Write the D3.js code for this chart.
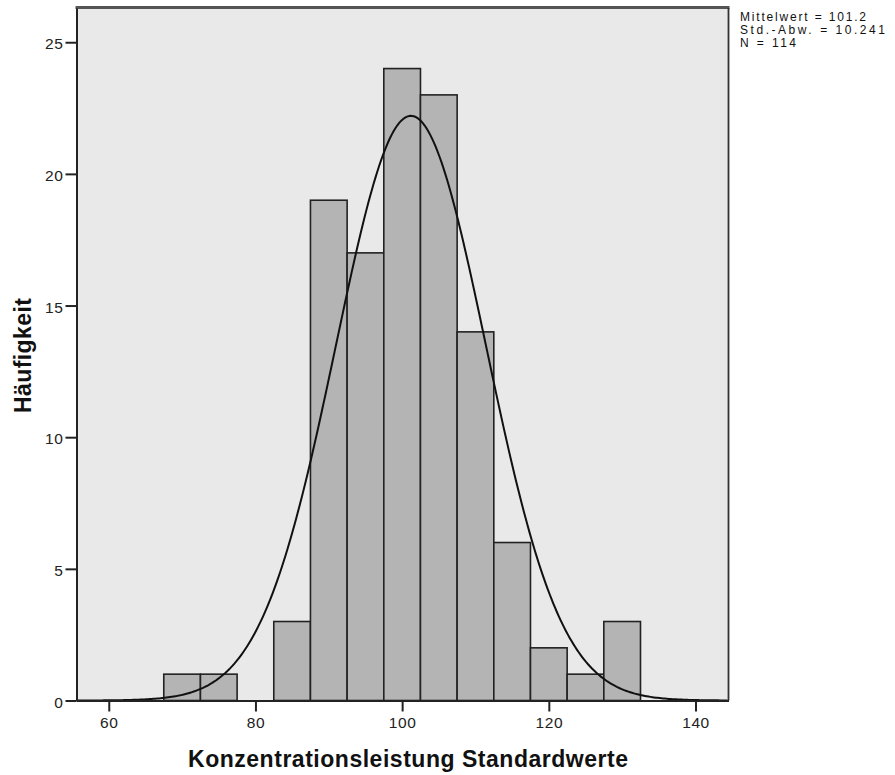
<!DOCTYPE html>
<html>
<head>
<meta charset="utf-8">
<script src="https://cdn.jsdelivr.net/npm/d3@7"></script>
<style>
  body { margin: 0; background: #fff; }
  svg text { font-family: "Liberation Sans", Arial, sans-serif; }
</style>
</head>
<body>
<div class="chart"></div>
<script>
// bin edges (lower bound of each 5-wide bin) and counts
let binStarts = [67.5, 72.5, 77.5, 82.5, 87.5, 92.5, 97.5, 102.5, 107.5, 112.5, 117.5, 122.5, 127.5];
let binCounts = [1, 1, 0, 3, 19, 17, 24, 23, 14, 6, 2, 1, 3];
let binWidth = 5;

let xTicks = [60, 80, 100, 120, 140];
let yTicks = [0, 5, 10, 15, 20, 25];

let mean = 101.2;
let sd = 10.241;
let n = 114;
let statsLines = ["Mittelwert = 101.2", "Std.-Abw. = 10.241", "N = 114"];

let W = 895, H = 775;
let plotLeft = 76.5, plotRight = 728.5, plotTop = 8, plotBottom = 700.5;

let svg = d3.select(".chart").append("svg")
  .attr("width", W)
  .attr("height", H);

let x = d3.scaleLinear()
  .domain([55.6, 144.5])
  .range([plotLeft, plotRight]);

let y = d3.scaleLinear()
  .domain([0, 26.3])
  .range([plotBottom, plotTop]);

// plot background
svg.append("rect")
  .attr("x", plotLeft)
  .attr("y", plotTop)
  .attr("width", plotRight - plotLeft)
  .attr("height", plotBottom - plotTop)
  .attr("fill", "#e9e9e9");

// bars
let bins = binStarts.map(function(s, i){ return {x0: s, x1: s + binWidth, n: binCounts[i]}; });

svg.append("g").selectAll("rect")
  .data(bins.filter(function(d){ return d.n > 0; }))
  .enter()
  .append("rect")
    .attr("x", function(d){ return x(d.x0); })
    .attr("y", function(d){ return y(d.n); })
    .attr("width", function(d){ return x(d.x1) - x(d.x0); })
    .attr("height", function(d){ return y(0) - y(d.n); })
    .attr("fill", "#b4b4b4")
    .attr("stroke", "#222")
    .attr("stroke-width", 1.6);

// normal curve from the listed mean / sd / N
let xs = d3.range(x.domain()[0], x.domain()[1], 0.25);
let curve = xs.map(function(v){
  let z = (v - mean) / sd;
  return [v, n * binWidth * Math.exp(-0.5 * z * z) / (sd * Math.sqrt(2 * Math.PI))];
});

svg.append("path")
  .datum(curve)
  .attr("fill", "none")
  .attr("stroke", "#111")
  .attr("stroke-width", 2)
  .attr("d", d3.line()
    .x(function(d){ return x(d[0]); })
    .y(function(d){ return y(d[1]); }));

// frame
svg.append("line")
  .attr("x1", plotLeft - 1).attr("x2", plotRight + 1)
  .attr("y1", plotTop - 0.5).attr("y2", plotTop - 0.5)
  .attr("stroke", "#555").attr("stroke-width", 3);
svg.append("line")
  .attr("x1", plotRight).attr("x2", plotRight)
  .attr("y1", plotTop).attr("y2", plotBottom)
  .attr("stroke", "#333").attr("stroke-width", 1.8);

// axes
let xAxis = d3.axisBottom(x).tickValues(xTicks).tickSize(11).tickSizeOuter(0).tickPadding(5);
let xAxisGroup = svg.append("g")
  .attr("transform", "translate(0," + plotBottom + ")")
  .call(xAxis);
xAxisGroup.select(".domain").attr("stroke", "#222").attr("stroke-width", 2);
xAxisGroup.selectAll(".tick line").attr("stroke", "#222").attr("stroke-width", 2);
xAxisGroup.selectAll("text")
  .attr("font-size", "15.5px")
  .attr("letter-spacing", "0.6px")
  .attr("font-family", "Liberation Sans, Arial, sans-serif")
  .attr("fill", "#222");

let yAxis = d3.axisLeft(y).tickValues(yTicks).tickSize(11).tickSizeOuter(0).tickPadding(2);
let yAxisGroup = svg.append("g")
  .attr("transform", "translate(" + plotLeft + ",0)")
  .call(yAxis);
yAxisGroup.select(".domain").attr("stroke", "#222").attr("stroke-width", 2);
yAxisGroup.selectAll(".tick line").attr("stroke", "#222").attr("stroke-width", 2);
yAxisGroup.selectAll("text")
  .attr("font-size", "15.5px")
  .attr("letter-spacing", "0.6px")
  .attr("dy", "0.42em")
  .attr("font-family", "Liberation Sans, Arial, sans-serif")
  .attr("fill", "#222");

// axis titles
svg.append("text")
  .attr("x", 408)
  .attr("y", 767)
  .attr("text-anchor", "middle")
  .attr("font-family", "DejaVu Sans, sans-serif")
  .attr("font-weight", "bold")
  .attr("font-size", "23px")
  .attr("textLength", 440)
  .attr("fill", "#111")
  .text("Konzentrationsleistung Standardwerte");

svg.append("text")
  .attr("transform", "translate(31,355.5) rotate(-90)")
  .attr("text-anchor", "middle")
  .attr("font-family", "DejaVu Sans, sans-serif")
  .attr("font-weight", "bold")
  .attr("font-size", "23px")
  .attr("textLength", 115)
  .attr("fill", "#111")
  .text("Häufigkeit");

let statsWidths = [126, 145, 56];
svg.append("g").selectAll("text")
  .data(statsLines)
  .enter()
  .append("text")
    .attr("x", 740)
    .attr("y", function(d, i){ return 21 + i * 12.8; })
    .attr("font-size", "12px")
    .attr("fill", "#111")
    .attr("textLength", function(d, i){ return statsWidths[i]; })
    .text(function(d){ return d; });
</script>
</body>
</html>
